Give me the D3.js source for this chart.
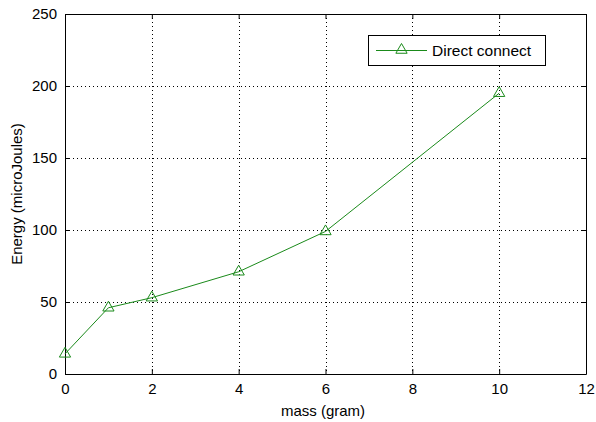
<!DOCTYPE html>
<html><head><meta charset="utf-8">
<script src="https://cdn.jsdelivr.net/npm/d3@7"></script>
<style>body{margin:0;background:#fff;} text{font-family:Arial,"Liberation Sans",sans-serif;}</style>
</head><body>
<svg id="c" width="596" height="422"></svg>
<script>
const massValues = [0, 1, 2, 4, 6, 10];
const energyValues = [14, 46, 53, 71, 99, 195];
const xTicks = [0, 2, 4, 6, 8, 10, 12];
const yTicks = [0, 50, 100, 150, 200, 250];
const seriesName = "Direct connect";

const svg = d3.select("#c");
const L = 65, R = 586, T = 14, B = 374;
const x = d3.scaleLinear().domain([0, 12]).range([L, R]);
const y = d3.scaleLinear().domain([0, 250]).range([B, T]);
const green = "#1a8a1a";
const FS = 15;

// grid
const g = svg.append("g");
g.selectAll(".gx").data(xTicks.slice(1, -1)).enter().append("line")
  .attr("x1", d => Math.round(x(d)) + 0.5).attr("x2", d => Math.round(x(d)) + 0.5).attr("y1", T).attr("y2", B)
  .attr("stroke", "#000").attr("stroke-dasharray", "1,3");
g.selectAll(".gy").data(yTicks.slice(1, -1)).enter().append("line")
  .attr("y1", d => Math.round(y(d)) + 0.5).attr("y2", d => Math.round(y(d)) + 0.5).attr("x1", L).attr("x2", R)
  .attr("stroke", "#000").attr("stroke-dasharray", "1,3");

// axes
const xa = d3.axisBottom(x).tickValues(xTicks).tickSizeInner(-5).tickSizeOuter(0).tickPadding(9);
const ya = d3.axisLeft(y).tickValues(yTicks).tickSizeInner(-5).tickSizeOuter(0).tickPadding(8);
const xt = d3.axisTop(x).tickValues(xTicks).tickSizeInner(-5).tickSizeOuter(0).tickFormat("");
const yr = d3.axisRight(y).tickValues(yTicks).tickSizeInner(-5).tickSizeOuter(0).tickFormat("");
[ [xa, `translate(0,${B})`], [ya, `translate(${L},0)`], [xt, `translate(0,${T})`], [yr, `translate(${R},0)`] ]
  .forEach(([a, t]) => {
    const ag = svg.append("g").attr("transform", t).call(a);
    ag.selectAll("text").attr("font-size", FS).attr("fill", "#000").attr("font-family", "Arial, 'Liberation Sans', sans-serif");
    ag.select(".domain").attr("stroke", "#000");
  });

// line
svg.append("path").datum(massValues.map((m, i) => [m, energyValues[i]]))
  .attr("fill", "none").attr("stroke", green).attr("stroke-width", 1)
  .attr("d", d3.line().x(d => x(d[0])).y(d => y(d[1])));

const tri = d3.symbol().type(d3.symbolTriangle).size(55);
svg.selectAll(".m").data(massValues).enter().append("path")
  .attr("d", tri).attr("transform", (d, i) => `translate(${x(d)},${y(energyValues[i])})`)
  .attr("fill", "none").attr("stroke", green).attr("stroke-width", 1);

// legend
const lg = svg.append("g");
lg.append("rect").attr("x", 368.5).attr("y", 35.5).attr("width", 177).attr("height", 30)
  .attr("fill", "#fff").attr("stroke", "#000");
lg.append("line").attr("x1", 376).attr("x2", 427).attr("y1", 50.5).attr("y2", 50.5).attr("stroke", green);
lg.append("path").attr("d", tri).attr("transform", "translate(401.5,50)").attr("fill", "none").attr("stroke", green);
lg.append("text").attr("x", 432).attr("y", 56).attr("font-size", FS + 0.5).text(seriesName);

// axis labels
svg.append("text").attr("x", 323).attr("y", 416).attr("text-anchor", "middle").attr("font-size", FS).text("mass (gram)");
svg.append("text").attr("transform", "translate(22,194) rotate(-90)").attr("text-anchor", "middle").attr("font-size", FS).text("Energy (microJoules)");
</script>
</body></html>
